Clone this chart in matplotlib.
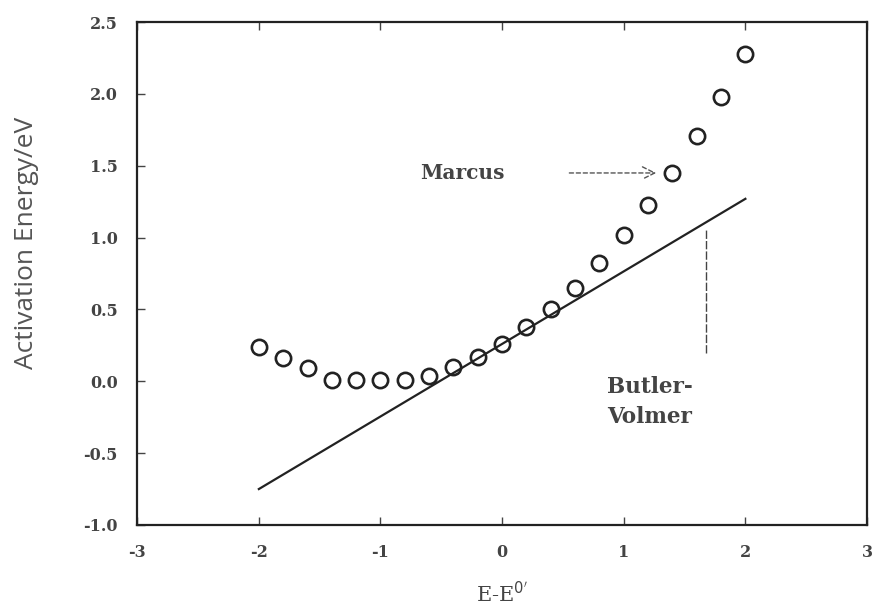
import matplotlib
matplotlib.use("Agg")
import matplotlib.pyplot as plt

# overpotential E - E0' (V) and activation energies (eV)
eta = [-2.0, -1.8, -1.6, -1.4, -1.2, -1.0, -0.8, -0.6, -0.4, -0.2, 0.0,
       0.2, 0.4, 0.6, 0.8, 1.0, 1.2, 1.4, 1.6, 1.8, 2.0]
marcus = [0.24, 0.16, 0.09, 0.01, 0.01, 0.01, 0.01, 0.04, 0.10, 0.17, 0.26,
          0.38, 0.50, 0.65, 0.82, 1.02, 1.23, 1.45, 1.71, 1.98, 2.28]
bv_eta = [-2.0, 2.0]
butler_volmer = [-0.75, 1.27]

xticks = [-3, -2, -1, 0, 1, 2, 3]
yticks = [-1.0, -0.5, 0.0, 0.5, 1.0, 1.5, 2.0, 2.5]

plt.rcParams['font.family'] = ['DejaVu Serif']

fig = plt.figure(figsize=(8.74, 6.14), dpi=100)
ax = fig.add_axes([0.157, 0.145, 0.835, 0.819])

ax.plot(bv_eta, butler_volmer, color='#222222', lw=1.6)
ax.plot(eta, marcus, 'o', mfc='none', mec='#222222', ms=11, mew=1.9)

ax.set_xlim(-3, 3)
ax.set_ylim(-1.0, 2.5)
ax.set_xticks(xticks)
ax.set_yticks(yticks)
ax.set_xticklabels(['-3', '-2', '-1', '0', '1', '2', '3'])
ax.set_yticklabels(['%.1f' % v for v in yticks])
ax.tick_params(direction='in', top=True, right=False, length=6, width=1,
               labelsize=11.5, pad=14, colors='#444444')
for lab in ax.get_xticklabels() + ax.get_yticklabels():
    lab.set_fontweight('bold')
for s in ax.spines.values():
    s.set_linewidth(1.6)
    s.set_color('#222222')

ax.set_xlabel("E-E$^{0'}$", fontsize=15, color='#444444', labelpad=14)
ax.set_ylabel("Activation Energy/eV", fontsize=19, color='#555555',
              family='Open Sans')
ax.yaxis.set_label_coords(-0.135, 0.56)

# Marcus label with dashed arrow
ax.text(-0.33, 1.45, "Marcus", fontsize=14.5, fontweight='bold', color='#444444',
        ha='center', va='center')
ax.annotate("", xy=(1.29, 1.45), xytext=(0.53, 1.45),
            arrowprops=dict(arrowstyle='->', ls=(0, (3, 2)), lw=1.0,
                            color='#555555', mutation_scale=22))

# Butler-Volmer label with vertical pointer
ax.plot([1.68, 1.68], [0.2, 1.05], color='#444444', lw=1.0, ls=(0, (6, 1.5)))
ax.text(0.86, 0.04, "Butler-\nVolmer", fontsize=15.5, fontweight='bold',
        color='#444444', ha='left', va='top', linespacing=1.5)

fig.savefig('out.png', dpi=100)
